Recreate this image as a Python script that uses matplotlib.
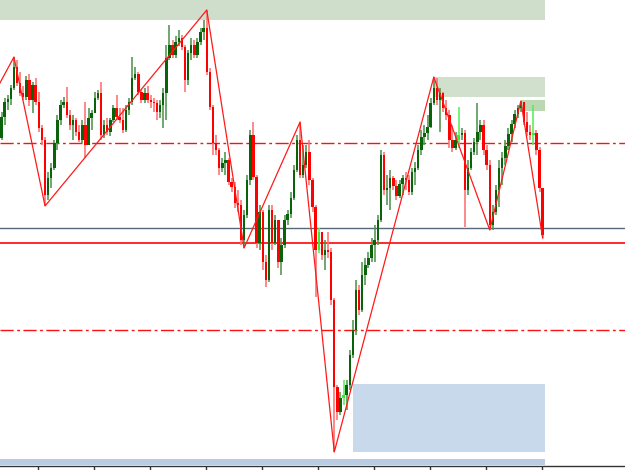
import numpy as np
import matplotlib
matplotlib.use('Agg')
import matplotlib.pyplot as plt
from matplotlib.patches import Rectangle

plt.rcParams['lines.scale_dashes'] = False

# ---- data (price units, arbitrary scale) ----
first_open = 332
close = [353, 368, 371, 382, 403, 387, 377, 373, 390, 370,
         385, 368, 342, 330, 275, 292, 302, 327, 350, 365,
         368, 355, 345, 350, 338, 330, 345, 325, 352, 357,
         372, 377, 335, 345, 338, 350, 362, 353, 350, 340,
         360, 368, 392, 396, 378, 370, 377, 370, 368, 367,
         358, 365, 377, 412, 425, 415, 428, 432, 423, 390,
         417, 425, 415, 428, 438, 442, 398, 363, 327, 320,
         302, 307, 310, 288, 283, 267, 265, 230, 255, 290,
         335, 293, 227, 258, 208, 190, 260, 227, 250, 208,
         225, 250, 256, 272, 300, 330, 295, 305, 318, 290,
         263, 220, 238, 215, 220, 218, 170, 83, 58, 72,
         75, 85, 115, 140, 180, 160, 195, 205, 212, 225,
         230, 250, 315, 280, 282, 292, 284, 274, 286, 292,
         290, 278, 298, 302, 320, 333, 337, 343, 367, 382,
         370, 377, 362, 355, 330, 322, 330, 335, 337, 280,
         302, 318, 328, 338, 345, 320, 305, 245, 258, 280,
         302, 312, 324, 336, 346, 356, 362, 368, 348, 338,
         335, 337, 320, 282, 235]
high = [358, 372, 375, 385, 413, 410, 398, 384, 394, 396,
        388, 392, 378, 345, 333, 298, 307, 330, 355, 370,
        373, 383, 360, 355, 352, 345, 350, 368, 362, 360,
        378, 380, 388, 350, 352, 352, 365, 375, 362, 362,
        365, 372, 413, 403, 398, 380, 382, 384, 375, 372,
        370, 370, 382, 425, 445, 430, 434, 440, 435, 425,
        420, 432, 430, 432, 442, 450, 460, 402, 365, 335,
        322, 312, 318, 312, 292, 288, 280, 270, 260, 295,
        340, 348, 295, 265, 260, 215, 265, 265, 255, 245,
        232, 255, 260, 278, 305, 335, 348, 325, 325, 330,
        292, 265, 242, 222, 230, 238, 222, 172, 85, 78,
        90, 90, 120, 150, 190, 185, 208, 212, 218, 232,
        245, 255, 320, 318, 295, 300, 294, 290, 290, 295,
        298, 295, 302, 308, 325, 340, 345, 355, 372, 393,
        392, 382, 378, 370, 360, 345, 338, 363, 342, 340,
        310, 322, 332, 367, 350, 350, 325, 310, 265, 285,
        310, 318, 330, 342, 350, 360, 365, 369, 367, 358,
        345, 365, 340, 323, 282]
low = [330, 345, 360, 365, 380, 384, 374, 370, 370, 364,
       357, 365, 338, 325, 264, 270, 282, 300, 320, 345,
       362, 352, 340, 330, 334, 328, 327, 312, 325, 340,
       357, 370, 330, 332, 335, 334, 348, 350, 347, 337,
       338, 355, 365, 390, 375, 367, 367, 367, 362, 358,
       350, 352, 342, 350, 410, 412, 412, 424, 420, 378,
       385, 410, 412, 412, 425, 430, 395, 360, 315, 315,
       295, 298, 295, 285, 278, 262, 258, 225, 222, 252,
       285, 290, 222, 220, 200, 183, 188, 220, 225, 202,
       195, 222, 245, 252, 270, 298, 292, 292, 302, 285,
       258, 173, 217, 210, 200, 212, 165, 18, 50, 55,
       65, 60, 80, 112, 135, 155, 158, 185, 202, 208,
       208, 225, 248, 275, 265, 260, 280, 270, 272, 275,
       280, 275, 275, 285, 300, 315, 325, 330, 342, 365,
       365, 338, 358, 350, 322, 318, 320, 322, 330, 243,
       275, 300, 315, 315, 330, 315, 300, 240, 240, 255,
       263, 285, 305, 320, 328, 342, 352, 358, 345, 334,
       330, 325, 315, 278, 232]
lime_idx = [102, 110, 147, 171]

zz_start_price = 387
zz_idx = [4, 14, 66, 78, 96, 107, 139, 157, 167, 174]
zz_kind = ['H', 'L', 'H', 'L', 'H', 'L', 'H', 'L', 'H', 'L']

dashdot_levels = [327, 140]
slate_level = 242
red_level = 227

# zones: (start candle, bottom price, top price)
top_band = (450, 480)
supply_box = (139, 373, 393)
supply_small = (167, 359, 370)
demand_box = (113, 18, 86)
bottom_band = (5, 11)

# ---- build ----
close = np.array(close, float)
high = np.array(high, float)
low = np.array(low, float)
n = len(close)
opn = np.concatenate([[first_open], close[:-1]])
high = np.maximum(high, np.maximum(opn, close))
low = np.minimum(low, np.minimum(opn, close))
x = np.arange(n)

fig = plt.figure(figsize=(6.25, 4.7), dpi=100)
ax = fig.add_axes([0, 4 / 470, 1, 466 / 470])
step = 3.11
ax.set_xlim(-1.5 / step, (625 - 1.5) / step)
ax.set_ylim(4, 470)
zone_end = n - 0.2
left = -0.6

def rect(x0, y0, y1, color, z=0):
    ax.add_patch(Rectangle((x0, y0), zone_end - x0, y1 - y0,
                           facecolor=color, edgecolor='none', zorder=z))

rect(left, top_band[0], top_band[1], '#cfdecb')
rect(supply_box[0] - 0.3, supply_box[1], supply_box[2], '#d1e0cc')
rect(supply_small[0], supply_small[1], supply_small[2], '#bcd8b3')
rect(demand_box[0], demand_box[1], demand_box[2], '#c8d9eb')
rect(left, bottom_band[0], bottom_band[1], '#b9cce4')

# horizontal levels
for lv in dashdot_levels:
    ax.axhline(lv, color='#ff1010', lw=1.0, dashes=(9.5, 2.5, 2.0, 2.5), zorder=1)
ax.axhline(slate_level, color='#56697c', lw=1.0, zorder=1)
ax.axhline(red_level, color='#ff2a2a', lw=1.4, zorder=1)

# candles
up = close >= opn
body_col = np.where(up, '#0a620a', '#ff0000').astype(object)
wick_col = np.where(up, '#4f944f', '#ff6f6f').astype(object)
for i in lime_idx:
    body_col[i] = '#33ee33'
    wick_col[i] = '#55ee55'
ax.vlines(x, low, high, colors=list(wick_col), linewidth=1.15, zorder=2)
bot = np.minimum(opn, close)
hgt = np.maximum(np.abs(close - opn), 1.5)
ax.bar(x, hgt, bottom=bot, width=0.78, color=list(body_col), linewidth=0, zorder=3)

# zigzag
zx = [-0.5] + zz_idx
zy = [zz_start_price] + [high[i] if k == 'H' else low[i] for i, k in zip(zz_idx, zz_kind)]
ax.plot(zx, zy, color='#ff1a1a', lw=0.9, zorder=4)

# axes styling
for s in ['top', 'left', 'right']:
    ax.spines[s].set_visible(False)
ax.spines['bottom'].set_color('#333333')
ax.spines['bottom'].set_linewidth(1.0)
ticks = np.arange(11.74, n, 18.0)
ax.set_xticks(ticks)
ax.set_xticklabels([])
ax.tick_params(axis='x', direction='out', length=3, width=1, color='#333333')
ax.set_yticks([])
ax.set_facecolor('white')

fig.savefig('out.png', dpi=100)
